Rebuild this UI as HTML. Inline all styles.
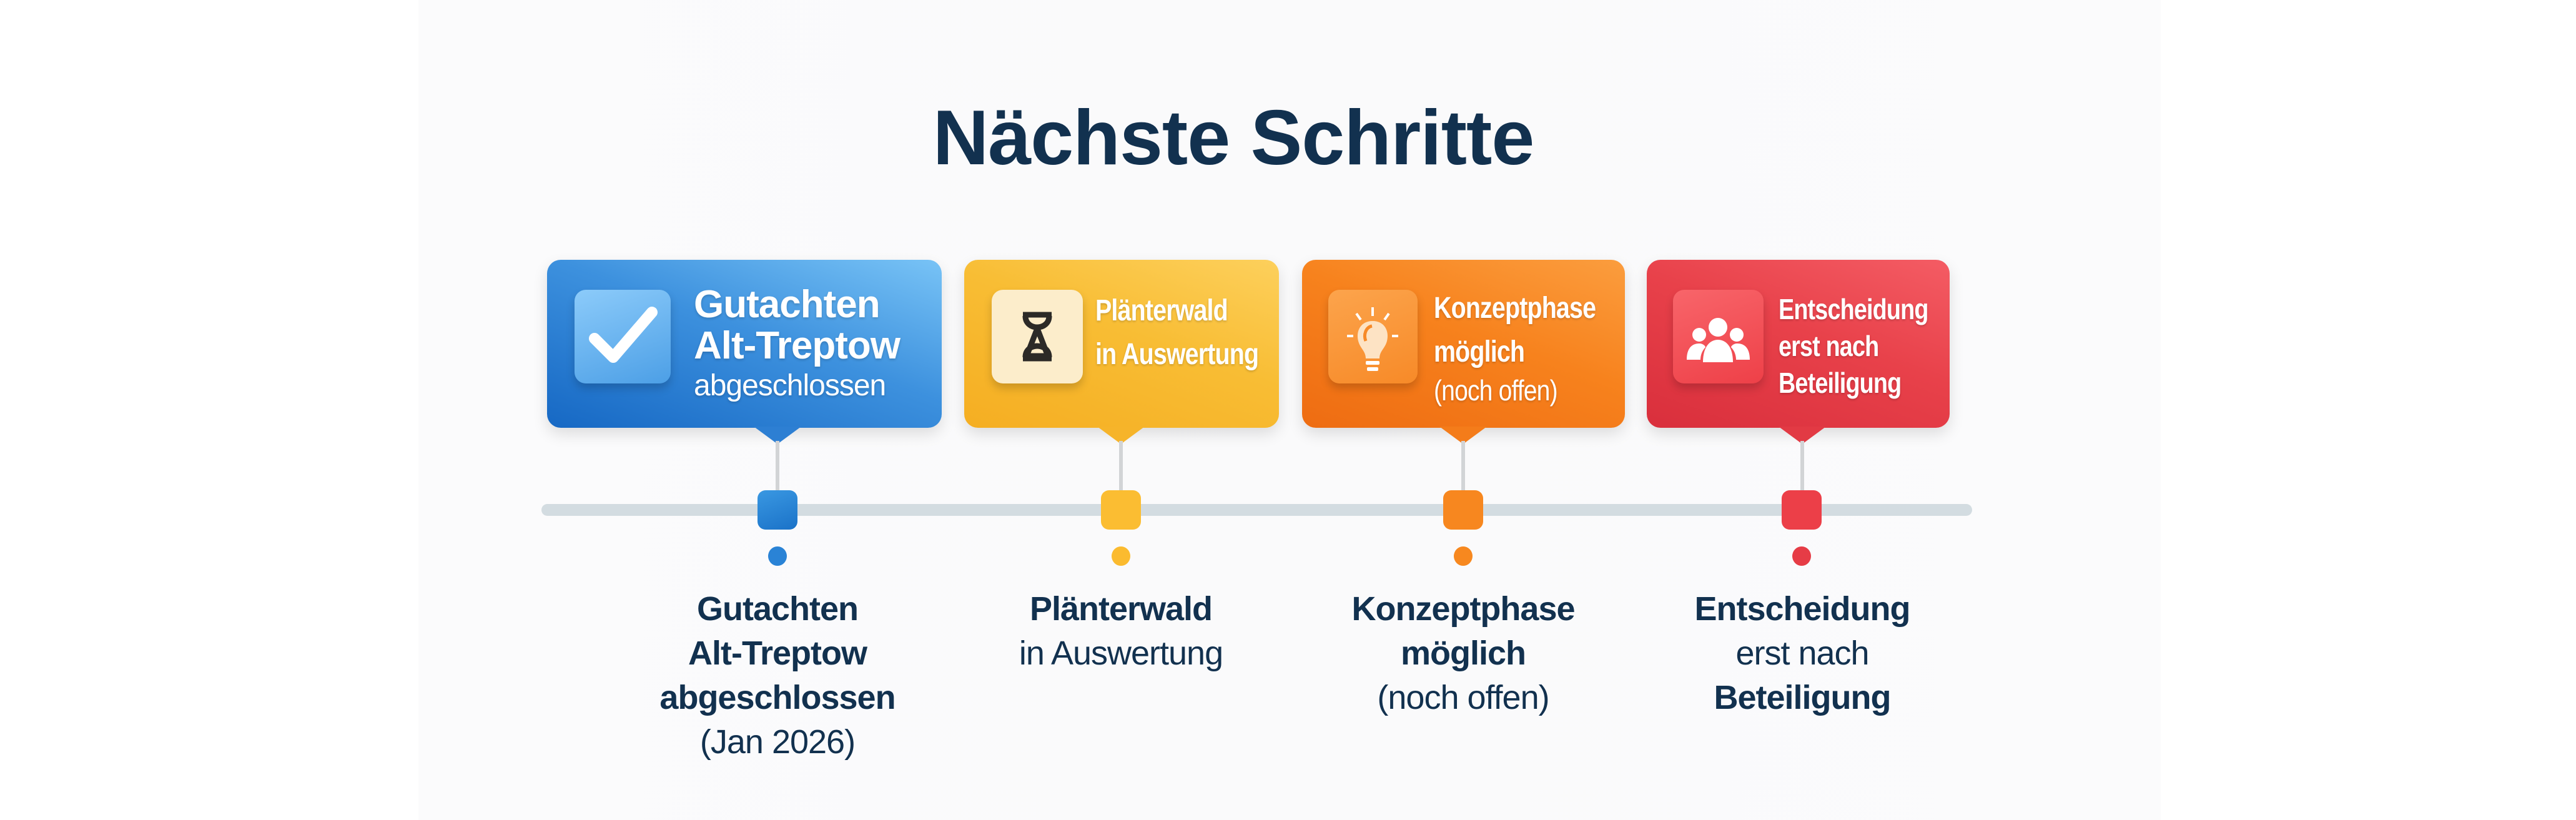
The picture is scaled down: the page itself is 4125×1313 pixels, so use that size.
<!DOCTYPE html>
<html><head><meta charset="utf-8"><style>
*{margin:0;padding:0;box-sizing:border-box}
body{width:4125px;height:1313px;background:#fff;position:relative;overflow:hidden;font-family:"Liberation Sans",sans-serif}
.panel{position:absolute;left:670px;top:0;width:2790px;height:1313px;background:linear-gradient(90deg,#fbfbfc,#fafafb 50%,#fbfbfc)}
.title{position:absolute;left:0;width:3950px;text-align:center;top:150px;font-size:124px;font-weight:bold;color:#12314f;letter-spacing:-1px}
.box{position:absolute;top:416px;height:269px;border-radius:22px;box-shadow:0 10px 24px rgba(0,0,0,.12)}
.ptr{position:absolute;top:683px;width:0;height:0;border-left:38px solid transparent;border-right:38px solid transparent;border-top:28px solid}
.stem{position:absolute;top:706px;width:6px;height:82px;background:#d2d4d6}
.ic{position:absolute;top:464px;height:150px;border-radius:18px;box-shadow:0 8px 14px rgba(0,0,0,.18)}
.bt{position:absolute;color:#fff;font-weight:bold;white-space:nowrap;text-shadow:0 2px 4px rgba(0,0,0,.18);transform-origin:0 0}
.bar{position:absolute;left:867px;top:807px;width:2291px;height:19px;border-radius:10px;background:#d3dce1}
.mk{position:absolute;top:785px;width:64px;height:63px;border-radius:13px}
.dot{position:absolute;top:875px;width:30px;height:31px;border-radius:50%}
.lbl{position:absolute;top:940px;width:600px;text-align:center;color:#12314f;font-size:54px;line-height:71px;letter-spacing:-1px}
.lbl b{font-weight:bold}
</style></head><body>
<div class="panel"></div>
<div class="title">Nächste Schritte</div>

<!-- box 1 -->
<div class="box" style="left:876px;width:632px;background:linear-gradient(20deg,#1668c4,#3d91de 55%,#78c3f6)"></div>
<div class="ptr" style="left:1207px;border-top-color:#2d7fd3"></div>
<div class="ic" style="left:920px;width:154px;background:linear-gradient(160deg,#8ccbfa,#4c9fe6)">
<svg width="154" height="150" viewBox="0 0 154 150"><path d="M32 78 L62 108 L124 36" stroke="#fff" stroke-width="18" fill="none" stroke-linecap="round" stroke-linejoin="round"/></svg></div>
<div class="bt" style="left:1111px;top:455px;font-size:62px;line-height:66px;letter-spacing:-1px">Gutachten<br>Alt-Treptow</div>
<div class="bt" style="left:1111px;top:590px;font-size:48px;font-weight:normal;letter-spacing:-1px">abgeschlossen</div>

<!-- box 2 -->
<div class="box" style="left:1544px;width:504px;background:linear-gradient(20deg,#f5ae22,#f8bd34 55%,#fdd05c)"></div>
<div class="ptr" style="left:1757px;border-top-color:#f6b42a"></div>
<div class="ic" style="left:1588px;width:146px;background:#fcedcb">
<svg width="146" height="150" viewBox="0 0 146 150"><path d="M50 40 H96 M50 110 H96 M54 42 C54 66 92 66 92 42 M54 108 C54 84 92 84 92 108 M73 62 L56 106 H90 Z" stroke="#2c2a27" stroke-width="9" fill="none" stroke-linejoin="round"/></svg></div>
<div class="bt" style="left:1754px;top:463px;font-size:48px;line-height:70px;letter-spacing:-1px;transform:scaleX(.82)">Plänterwald<br>in Auswertung</div>

<!-- box 3 -->
<div class="box" style="left:2085px;width:517px;background:linear-gradient(20deg,#ee6c12,#f7821d 55%,#fb9d3e)"></div>
<div class="ptr" style="left:2305px;border-top-color:#f47c1a"></div>
<div class="ic" style="left:2127px;width:143px;background:linear-gradient(160deg,#fca44c,#f78a28)">
<svg width="143" height="150" viewBox="0 0 143 150"><path d="M71 28 V42 M45 38 L52 48 M97 38 L90 48 M30 74 H40 M102 74 H112" stroke="#fff" stroke-width="4"/><path d="M71 50 C52 50 44 66 48 82 C51 94 60 98 60 110 H82 C82 98 91 94 94 82 C98 66 90 50 71 50 Z" fill="#fde3c4"/><path d="M70 58 C60 60 56 72 60 82" stroke="#f78a28" stroke-width="5" fill="none"/><rect x="60" y="114" width="22" height="6" rx="2" fill="#fff"/><rect x="62" y="124" width="18" height="6" rx="2" fill="#fff"/></svg></div>
<div class="bt" style="left:2296px;top:459px;font-size:48px;line-height:70px;letter-spacing:-1px;transform:scaleX(.82)">Konzeptphase<br>möglich</div>
<div class="bt" style="left:2296px;top:600px;font-size:46px;line-height:50px;font-weight:normal;letter-spacing:-1px;transform:scaleX(.85)">(noch offen)</div>

<!-- box 4 -->
<div class="box" style="left:2637px;width:485px;background:linear-gradient(20deg,#d92f3c,#e8414a 55%,#f45c64)"></div>
<div class="ptr" style="left:2848px;border-top-color:#e23a44"></div>
<div class="ic" style="left:2679px;width:145px;background:linear-gradient(160deg,#f8656a,#ee4048)">
<svg width="145" height="150" viewBox="0 0 145 150"><g fill="#fff"><circle cx="72" cy="60" r="15"/><circle cx="42" cy="72" r="11"/><circle cx="102" cy="72" r="11"/><path d="M48 116 C48 90 60 80 72 80 C84 80 96 90 96 116 Z"/><path d="M22 112 C22 94 30 86 42 86 C48 86 52 90 52 92 C46 98 44 106 44 112 Z"/><path d="M123 112 C123 94 115 86 103 86 C97 86 93 90 93 92 C99 98 101 106 101 112 Z"/></g></svg></div>
<div class="bt" style="left:2848px;top:466px;font-size:46px;line-height:59px;letter-spacing:-1px;transform:scaleX(.82)">Entscheidung<br>erst nach<br>Beteiligung</div>

<div class="stem" style="left:1242px"></div>
<div class="stem" style="left:1792px"></div>
<div class="stem" style="left:2340px"></div>
<div class="stem" style="left:2883px"></div>

<div class="bar"></div>
<div class="mk" style="left:1213px;background:linear-gradient(160deg,#3a98e2,#1a72c8)"></div>
<div class="mk" style="left:1763px;background:#fbbd32"></div>
<div class="mk" style="left:2311px;background:#f7871f"></div>
<div class="mk" style="left:2853px;background:#ec3f48"></div>

<div class="dot" style="left:1230px;background:#2a83d6"></div>
<div class="dot" style="left:1780px;background:#fbbb2f"></div>
<div class="dot" style="left:2328px;background:#f7881f"></div>
<div class="dot" style="left:2870px;background:#e63c46"></div>

<div class="lbl" style="left:945px"><b>Gutachten<br>Alt-Treptow<br>abgeschlossen</b><br>(Jan 2026)</div>
<div class="lbl" style="left:1495px"><b>Plänterwald</b><br>in Auswertung</div>
<div class="lbl" style="left:2043px"><b>Konzeptphase<br>möglich</b><br>(noch offen)</div>
<div class="lbl" style="left:2586px"><b>Entscheidung</b><br>erst nach<br><b>Beteiligung</b></div>
</body></html>
